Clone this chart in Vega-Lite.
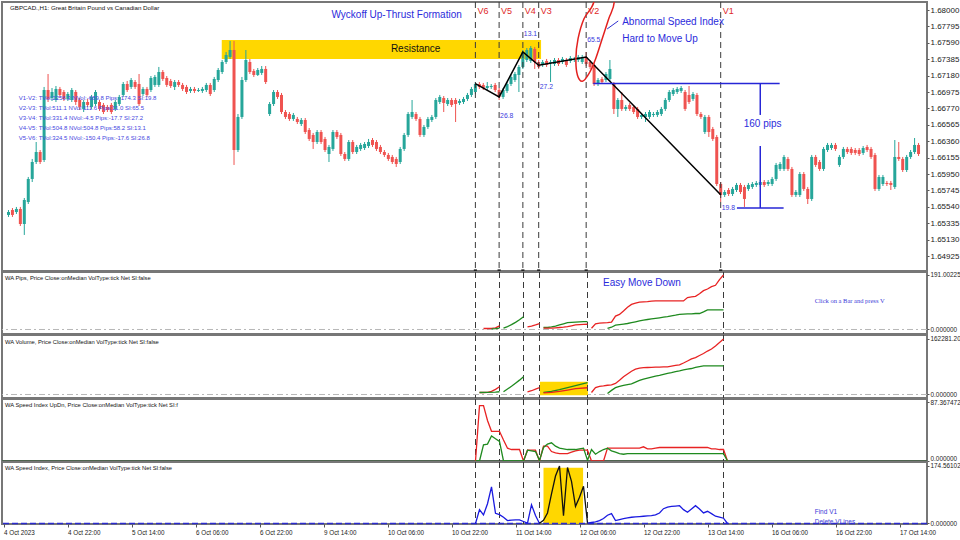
{
"$schema":"https://vega.github.io/schema/vega-lite/v6.json",
"padding":0,
"background":"#ffffff",
"spacing":1,
"bounds":"flush",
"config":{"view":{"stroke":"#777777","strokeWidth":2},"font":"Liberation Sans"},
"resolve":{"scale":{"x":"independent","y":"independent","color":"independent"}},
"datasets":{
"candles":[
{"i":0,"o":1.65438,"h":1.655,"l":1.65413,"c":1.65475},
{"i":1,"o":1.655,"h":1.65525,"l":1.65413,"c":1.65438},
{"i":2,"o":1.65475,"h":1.65538,"l":1.6545,"c":1.65513},
{"i":3,"o":1.65513,"h":1.65538,"l":1.653,"c":1.65325},
{"i":4,"o":1.65325,"h":1.6565,"l":1.65188,"c":1.65625},
{"i":5,"o":1.656,"h":1.65913,"l":1.65575,"c":1.65888},
{"i":6,"o":1.65888,"h":1.66138,"l":1.6585,"c":1.661},
{"i":7,"o":1.661,"h":1.6635,"l":1.66075,"c":1.66225},
{"i":8,"o":1.66225,"h":1.6625,"l":1.66075,"c":1.661},
{"i":9,"o":1.66125,"h":1.67038,"l":1.661,"c":1.67},
{"i":10,"o":1.67,"h":1.672,"l":1.6685,"c":1.66888},
{"i":11,"o":1.669,"h":1.67025,"l":1.66863,"c":1.66975},
{"i":12,"o":1.66875,"h":1.6705,"l":1.6685,"c":1.67013},
{"i":13,"o":1.67013,"h":1.67038,"l":1.669,"c":1.66938},
{"i":14,"o":1.66975,"h":1.67,"l":1.66863,"c":1.66888},
{"i":15,"o":1.66888,"h":1.66975,"l":1.66863,"c":1.6695},
{"i":16,"o":1.66875,"h":1.67025,"l":1.6685,"c":1.67},
{"i":17,"o":1.66975,"h":1.67,"l":1.66813,"c":1.6685},
{"i":18,"o":1.66875,"h":1.669,"l":1.6675,"c":1.66788},
{"i":19,"o":1.66763,"h":1.66875,"l":1.66725,"c":1.6685},
{"i":20,"o":1.6685,"h":1.66888,"l":1.66788,"c":1.66813},
{"i":21,"o":1.66788,"h":1.66938,"l":1.66763,"c":1.66913},
{"i":22,"o":1.66825,"h":1.67,"l":1.668,"c":1.66975},
{"i":23,"o":1.6685,"h":1.66875,"l":1.66738,"c":1.66763},
{"i":24,"o":1.66813,"h":1.66838,"l":1.667,"c":1.66725},
{"i":25,"o":1.66788,"h":1.66813,"l":1.66725,"c":1.6675},
{"i":26,"o":1.66813,"h":1.66838,"l":1.667,"c":1.66725},
{"i":27,"o":1.66763,"h":1.66875,"l":1.66738,"c":1.6685},
{"i":28,"o":1.66825,"h":1.66938,"l":1.668,"c":1.66913},
{"i":29,"o":1.66938,"h":1.671,"l":1.66913,"c":1.67075},
{"i":30,"o":1.67075,"h":1.67113,"l":1.66975,"c":1.67},
{"i":31,"o":1.67038,"h":1.6715,"l":1.67013,"c":1.67125},
{"i":32,"o":1.671,"h":1.67125,"l":1.67013,"c":1.67038},
{"i":33,"o":1.67075,"h":1.672,"l":1.668,"c":1.66825},
{"i":34,"o":1.6695,"h":1.67038,"l":1.66925,"c":1.67013},
{"i":35,"o":1.67013,"h":1.67038,"l":1.66913,"c":1.66938},
{"i":36,"o":1.67,"h":1.67175,"l":1.66975,"c":1.6715},
{"i":37,"o":1.67063,"h":1.67188,"l":1.67038,"c":1.67163},
{"i":38,"o":1.67063,"h":1.67288,"l":1.67038,"c":1.67225},
{"i":39,"o":1.67225,"h":1.6725,"l":1.67113,"c":1.67138},
{"i":40,"o":1.6715,"h":1.67175,"l":1.67038,"c":1.67063},
{"i":41,"o":1.67113,"h":1.67138,"l":1.67025,"c":1.6705},
{"i":42,"o":1.67038,"h":1.67125,"l":1.67,"c":1.671},
{"i":43,"o":1.671,"h":1.67125,"l":1.67038,"c":1.67063},
{"i":44,"o":1.67063,"h":1.67088,"l":1.66988,"c":1.67013},
{"i":45,"o":1.67038,"h":1.67063,"l":1.6695,"c":1.66975},
{"i":46,"o":1.66988,"h":1.67038,"l":1.66963,"c":1.67013},
{"i":47,"o":1.67013,"h":1.67038,"l":1.66963,"c":1.66988},
{"i":48,"o":1.66988,"h":1.67025,"l":1.66975,"c":1.67},
{"i":49,"o":1.66988,"h":1.67038,"l":1.66963,"c":1.67013},
{"i":50,"o":1.67,"h":1.67088,"l":1.66975,"c":1.67063},
{"i":51,"o":1.67063,"h":1.67088,"l":1.66925,"c":1.6695},
{"i":52,"o":1.67,"h":1.67163,"l":1.66975,"c":1.67138},
{"i":53,"o":1.67125,"h":1.67275,"l":1.671,"c":1.6725},
{"i":54,"o":1.67225,"h":1.67375,"l":1.672,"c":1.6735},
{"i":55,"o":1.6735,"h":1.67475,"l":1.67325,"c":1.67438},
{"i":56,"o":1.67413,"h":1.67613,"l":1.67388,"c":1.675},
{"i":57,"o":1.675,"h":1.67613,"l":1.66063,"c":1.6625},
{"i":58,"o":1.6625,"h":1.667,"l":1.66225,"c":1.66663},
{"i":59,"o":1.66663,"h":1.67163,"l":1.66638,"c":1.67125},
{"i":60,"o":1.67125,"h":1.675,"l":1.671,"c":1.67375},
{"i":61,"o":1.6735,"h":1.67388,"l":1.672,"c":1.67225},
{"i":62,"o":1.67238,"h":1.67263,"l":1.67163,"c":1.67188},
{"i":63,"o":1.67188,"h":1.67275,"l":1.67175,"c":1.6725},
{"i":64,"o":1.67213,"h":1.673,"l":1.67188,"c":1.67263},
{"i":65,"o":1.67263,"h":1.673,"l":1.67075,"c":1.671},
{"i":66,"o":1.667,"h":1.6685,"l":1.66675,"c":1.66825},
{"i":67,"o":1.66825,"h":1.67,"l":1.668,"c":1.66975},
{"i":68,"o":1.66975,"h":1.67,"l":1.66888,"c":1.66913},
{"i":69,"o":1.66938,"h":1.66963,"l":1.667,"c":1.66725},
{"i":70,"o":1.66725,"h":1.6675,"l":1.66638,"c":1.66663},
{"i":71,"o":1.667,"h":1.66725,"l":1.66613,"c":1.66638},
{"i":72,"o":1.66638,"h":1.66713,"l":1.66613,"c":1.66688},
{"i":73,"o":1.66638,"h":1.66663,"l":1.66575,"c":1.666},
{"i":74,"o":1.66575,"h":1.6665,"l":1.6655,"c":1.66625},
{"i":75,"o":1.66625,"h":1.6665,"l":1.6645,"c":1.66475},
{"i":76,"o":1.665,"h":1.66525,"l":1.66363,"c":1.66388},
{"i":77,"o":1.66438,"h":1.66463,"l":1.66263,"c":1.6635},
{"i":78,"o":1.6635,"h":1.665,"l":1.66325,"c":1.66475},
{"i":79,"o":1.66475,"h":1.665,"l":1.66325,"c":1.6635},
{"i":80,"o":1.66388,"h":1.66413,"l":1.66225,"c":1.6625},
{"i":81,"o":1.662,"h":1.66313,"l":1.661,"c":1.66288},
{"i":82,"o":1.66263,"h":1.665,"l":1.66238,"c":1.66475},
{"i":83,"o":1.66475,"h":1.665,"l":1.66388,"c":1.66413},
{"i":84,"o":1.66438,"h":1.66463,"l":1.66175,"c":1.662},
{"i":85,"o":1.662,"h":1.66225,"l":1.66113,"c":1.66138},
{"i":86,"o":1.66138,"h":1.66375,"l":1.66113,"c":1.6635},
{"i":87,"o":1.6635,"h":1.66375,"l":1.662,"c":1.66225},
{"i":88,"o":1.66225,"h":1.66313,"l":1.662,"c":1.66288},
{"i":89,"o":1.66263,"h":1.66338,"l":1.66238,"c":1.66313},
{"i":90,"o":1.66275,"h":1.6635,"l":1.6625,"c":1.66325},
{"i":91,"o":1.663,"h":1.66388,"l":1.66275,"c":1.6635},
{"i":92,"o":1.66375,"h":1.664,"l":1.66288,"c":1.66313},
{"i":93,"o":1.6635,"h":1.66375,"l":1.66238,"c":1.66263},
{"i":94,"o":1.66288,"h":1.66313,"l":1.662,"c":1.66225},
{"i":95,"o":1.66225,"h":1.6625,"l":1.66163,"c":1.66188},
{"i":96,"o":1.66188,"h":1.66213,"l":1.66113,"c":1.66138},
{"i":97,"o":1.66163,"h":1.66188,"l":1.66075,"c":1.661},
{"i":98,"o":1.66138,"h":1.66163,"l":1.66038,"c":1.66075},
{"i":99,"o":1.661,"h":1.66288,"l":1.66075,"c":1.66263},
{"i":100,"o":1.66263,"h":1.66463,"l":1.66238,"c":1.66438},
{"i":101,"o":1.66438,"h":1.66725,"l":1.66413,"c":1.667},
{"i":102,"o":1.66663,"h":1.66875,"l":1.66638,"c":1.66725},
{"i":103,"o":1.667,"h":1.66725,"l":1.66613,"c":1.66638},
{"i":104,"o":1.66638,"h":1.66663,"l":1.66413,"c":1.66438},
{"i":105,"o":1.66438,"h":1.66563,"l":1.66413,"c":1.66538},
{"i":106,"o":1.66538,"h":1.66663,"l":1.66513,"c":1.66638},
{"i":107,"o":1.66625,"h":1.66688,"l":1.666,"c":1.66663},
{"i":108,"o":1.66663,"h":1.669,"l":1.66638,"c":1.66875},
{"i":109,"o":1.6685,"h":1.66938,"l":1.66825,"c":1.66913},
{"i":110,"o":1.669,"h":1.66925,"l":1.66725,"c":1.66838},
{"i":111,"o":1.66825,"h":1.669,"l":1.668,"c":1.66875},
{"i":112,"o":1.66875,"h":1.669,"l":1.66788,"c":1.66813},
{"i":113,"o":1.66875,"h":1.669,"l":1.666,"c":1.66825},
{"i":114,"o":1.66838,"h":1.66888,"l":1.66813,"c":1.66863},
{"i":115,"o":1.6685,"h":1.66913,"l":1.66825,"c":1.66888},
{"i":116,"o":1.66888,"h":1.66963,"l":1.66863,"c":1.66938},
{"i":117,"o":1.66938,"h":1.67038,"l":1.66913,"c":1.67013},
{"i":118,"o":1.66975,"h":1.671,"l":1.6695,"c":1.67075},
{"i":119,"o":1.67075,"h":1.671,"l":1.67013,"c":1.67038},
{"i":120,"o":1.67063,"h":1.67088,"l":1.67,"c":1.67025},
{"i":121,"o":1.67025,"h":1.671,"l":1.67,"c":1.6705},
{"i":122,"o":1.67038,"h":1.67075,"l":1.67013,"c":1.6705},
{"i":123,"o":1.67063,"h":1.67088,"l":1.66975,"c":1.67},
{"i":124,"o":1.67,"h":1.67025,"l":1.66875,"c":1.66913},
{"i":125,"o":1.66913,"h":1.67025,"l":1.66888,"c":1.67},
{"i":126,"o":1.66988,"h":1.671,"l":1.66963,"c":1.67075},
{"i":127,"o":1.67075,"h":1.67188,"l":1.6705,"c":1.67163},
{"i":128,"o":1.67125,"h":1.67225,"l":1.671,"c":1.672},
{"i":129,"o":1.67188,"h":1.67313,"l":1.66975,"c":1.67288},
{"i":130,"o":1.67288,"h":1.675,"l":1.67263,"c":1.67475},
{"i":131,"o":1.67375,"h":1.67525,"l":1.6735,"c":1.675},
{"i":132,"o":1.67363,"h":1.6755,"l":1.67338,"c":1.67525},
{"i":133,"o":1.67513,"h":1.67538,"l":1.67263,"c":1.6735},
{"i":134,"o":1.6735,"h":1.67375,"l":1.67263,"c":1.67288},
{"i":135,"o":1.67313,"h":1.67375,"l":1.67288,"c":1.6735},
{"i":136,"o":1.67363,"h":1.67388,"l":1.67288,"c":1.67313},
{"i":137,"o":1.67338,"h":1.67375,"l":1.671,"c":1.6735},
{"i":138,"o":1.67325,"h":1.674,"l":1.673,"c":1.67375},
{"i":139,"o":1.67375,"h":1.674,"l":1.673,"c":1.67325},
{"i":140,"o":1.6735,"h":1.67413,"l":1.67325,"c":1.67388},
{"i":141,"o":1.67375,"h":1.674,"l":1.67288,"c":1.67313},
{"i":142,"o":1.67363,"h":1.67425,"l":1.67338,"c":1.674},
{"i":143,"o":1.67375,"h":1.67413,"l":1.6735,"c":1.67388},
{"i":144,"o":1.67375,"h":1.67438,"l":1.6735,"c":1.67413},
{"i":145,"o":1.6735,"h":1.67438,"l":1.67325,"c":1.67413},
{"i":146,"o":1.67413,"h":1.67475,"l":1.673,"c":1.67325},
{"i":147,"o":1.6735,"h":1.67375,"l":1.67263,"c":1.67288},
{"i":148,"o":1.67313,"h":1.67338,"l":1.6705,"c":1.67075},
{"i":149,"o":1.67075,"h":1.6715,"l":1.6705,"c":1.67125},
{"i":150,"o":1.67138,"h":1.67163,"l":1.67075,"c":1.671},
{"i":151,"o":1.67125,"h":1.67225,"l":1.671,"c":1.672},
{"i":152,"o":1.67138,"h":1.67375,"l":1.67113,"c":1.67263},
{"i":153,"o":1.67075,"h":1.671,"l":1.667,"c":1.66763},
{"i":154,"o":1.66763,"h":1.669,"l":1.66663,"c":1.66875},
{"i":155,"o":1.66875,"h":1.66975,"l":1.66738,"c":1.66763},
{"i":156,"o":1.66763,"h":1.66813,"l":1.66738,"c":1.66788},
{"i":157,"o":1.66813,"h":1.66838,"l":1.66738,"c":1.66763},
{"i":158,"o":1.66788,"h":1.66813,"l":1.667,"c":1.66725},
{"i":159,"o":1.66763,"h":1.66788,"l":1.66638,"c":1.66663},
{"i":160,"o":1.66663,"h":1.66713,"l":1.66638,"c":1.66688},
{"i":161,"o":1.66663,"h":1.66725,"l":1.666,"c":1.667},
{"i":162,"o":1.66663,"h":1.6675,"l":1.66638,"c":1.66725},
{"i":163,"o":1.66688,"h":1.66725,"l":1.66663,"c":1.667},
{"i":164,"o":1.66688,"h":1.6675,"l":1.66663,"c":1.66725},
{"i":165,"o":1.667,"h":1.66788,"l":1.66675,"c":1.66763},
{"i":166,"o":1.66763,"h":1.669,"l":1.66738,"c":1.66875},
{"i":167,"o":1.66875,"h":1.67,"l":1.6685,"c":1.66975},
{"i":168,"o":1.6695,"h":1.67025,"l":1.66925,"c":1.67},
{"i":169,"o":1.66975,"h":1.67038,"l":1.6695,"c":1.67013},
{"i":170,"o":1.66988,"h":1.6705,"l":1.66963,"c":1.67025},
{"i":171,"o":1.66975,"h":1.67,"l":1.66738,"c":1.66763},
{"i":172,"o":1.66938,"h":1.6705,"l":1.66825,"c":1.6685},
{"i":173,"o":1.66888,"h":1.66975,"l":1.66863,"c":1.6695},
{"i":174,"o":1.66938,"h":1.66963,"l":1.66675,"c":1.667},
{"i":175,"o":1.667,"h":1.66725,"l":1.66638,"c":1.66663},
{"i":176,"o":1.66475,"h":1.66688,"l":1.6645,"c":1.66663},
{"i":177,"o":1.66663,"h":1.66688,"l":1.66413,"c":1.66475},
{"i":178,"o":1.66513,"h":1.66538,"l":1.66363,"c":1.66388},
{"i":179,"o":1.66413,"h":1.66438,"l":1.658,"c":1.65825},
{"i":180,"o":1.65825,"h":1.6585,"l":1.656,"c":1.65688},
{"i":181,"o":1.65688,"h":1.6575,"l":1.65663,"c":1.65725},
{"i":182,"o":1.6575,"h":1.65775,"l":1.65675,"c":1.657},
{"i":183,"o":1.657,"h":1.65788,"l":1.65675,"c":1.65763},
{"i":184,"o":1.6575,"h":1.65838,"l":1.65725,"c":1.65813},
{"i":185,"o":1.65813,"h":1.65838,"l":1.657,"c":1.65725},
{"i":186,"o":1.65788,"h":1.65813,"l":1.65538,"c":1.65638},
{"i":187,"o":1.65763,"h":1.65838,"l":1.65738,"c":1.65813},
{"i":188,"o":1.65788,"h":1.6585,"l":1.65763,"c":1.65825},
{"i":189,"o":1.65813,"h":1.65863,"l":1.65788,"c":1.65838},
{"i":190,"o":1.65813,"h":1.65875,"l":1.65788,"c":1.6585},
{"i":191,"o":1.6585,"h":1.65875,"l":1.65788,"c":1.65813},
{"i":192,"o":1.65825,"h":1.65875,"l":1.658,"c":1.6585},
{"i":193,"o":1.65825,"h":1.65913,"l":1.658,"c":1.65888},
{"i":194,"o":1.65888,"h":1.66088,"l":1.65863,"c":1.66063},
{"i":195,"o":1.66013,"h":1.661,"l":1.65988,"c":1.66075},
{"i":196,"o":1.66013,"h":1.66188,"l":1.65988,"c":1.66163},
{"i":197,"o":1.66138,"h":1.66163,"l":1.65988,"c":1.66013},
{"i":198,"o":1.66013,"h":1.66038,"l":1.65663,"c":1.65688},
{"i":199,"o":1.65688,"h":1.6575,"l":1.65663,"c":1.65725},
{"i":200,"o":1.65688,"h":1.65975,"l":1.65663,"c":1.6595},
{"i":201,"o":1.6595,"h":1.65975,"l":1.65738,"c":1.65763},
{"i":202,"o":1.65763,"h":1.65788,"l":1.65575,"c":1.65638},
{"i":203,"o":1.65638,"h":1.66188,"l":1.65613,"c":1.66163},
{"i":204,"o":1.66163,"h":1.66188,"l":1.66038,"c":1.66063},
{"i":205,"o":1.661,"h":1.66125,"l":1.65988,"c":1.66013},
{"i":206,"o":1.66013,"h":1.66288,"l":1.65988,"c":1.66263},
{"i":207,"o":1.6625,"h":1.66338,"l":1.66225,"c":1.66313},
{"i":208,"o":1.66275,"h":1.66338,"l":1.6625,"c":1.66313},
{"i":209,"o":1.66313,"h":1.66338,"l":1.66238,"c":1.66263},
{"i":210,"o":1.66063,"h":1.66188,"l":1.66038,"c":1.66163},
{"i":211,"o":1.66163,"h":1.66288,"l":1.66138,"c":1.66263},
{"i":212,"o":1.66263,"h":1.66288,"l":1.662,"c":1.66225},
{"i":213,"o":1.66263,"h":1.66288,"l":1.66188,"c":1.66213},
{"i":214,"o":1.6625,"h":1.66275,"l":1.66188,"c":1.66213},
{"i":215,"o":1.6625,"h":1.66275,"l":1.66175,"c":1.662},
{"i":216,"o":1.66213,"h":1.663,"l":1.66188,"c":1.66275},
{"i":217,"o":1.66288,"h":1.66313,"l":1.66225,"c":1.6625},
{"i":218,"o":1.66263,"h":1.66288,"l":1.66138,"c":1.66163},
{"i":219,"o":1.66188,"h":1.66213,"l":1.65738,"c":1.65763},
{"i":220,"o":1.65763,"h":1.65938,"l":1.65738,"c":1.65913},
{"i":221,"o":1.65825,"h":1.65938,"l":1.658,"c":1.65913},
{"i":222,"o":1.65838,"h":1.65863,"l":1.658,"c":1.65825},
{"i":223,"o":1.65838,"h":1.65863,"l":1.6575,"c":1.65813},
{"i":224,"o":1.65788,"h":1.66375,"l":1.65763,"c":1.66163},
{"i":225,"o":1.66163,"h":1.6635,"l":1.66113,"c":1.66138},
{"i":226,"o":1.66138,"h":1.66163,"l":1.65975,"c":1.66},
{"i":227,"o":1.66,"h":1.66188,"l":1.65975,"c":1.66163},
{"i":228,"o":1.66163,"h":1.6625,"l":1.66138,"c":1.66225},
{"i":229,"o":1.66225,"h":1.664,"l":1.662,"c":1.66313},
{"i":230,"o":1.66313,"h":1.66338,"l":1.66175,"c":1.662}
],
"vlines":[{"i":118,"n":"V6"},{"i":124,"n":"V5"},{"i":130,"n":"V4"},{"i":134,"n":"V3"},{"i":146,"n":"V2"},{"i":180,"n":"V1"}],
"zigzag":[{"i":118,"p":1.67079},{"i":124,"p":1.66913},{"i":130,"p":1.67475},{"i":134,"p":1.67309},{"i":146,"p":1.67413},{"i":180,"p":1.65691}],
"ellipse":[{"k":0,"i":148.6,"p":1.68475},{"k":1,"i":147.95,"p":1.681},{"k":2,"i":145.45,"p":1.67891},{"k":3,"i":143.95,"p":1.67641},{"k":4,"i":143.4,"p":1.67391},{"k":5,"i":143.8,"p":1.67184},{"k":6,"i":145.05,"p":1.67109},{"k":7,"i":146.7,"p":1.67204},{"k":8,"i":148.4,"p":1.67391},{"k":9,"i":150.05,"p":1.67641},{"k":10,"i":151.7,"p":1.67891},{"k":11,"i":153.1,"p":1.681},{"k":12,"i":152.6,"p":1.68475}],
"pips":[
{"s":"dn","g":1,"i":120,"v":3.5},{"s":"dn","g":1,"i":121,"v":3.5},{"s":"dn","g":1,"i":122,"v":4},{"s":"dn","g":1,"i":123,"v":6},{"s":"dn","g":1,"i":124,"v":12.8},
{"s":"up","g":1,"i":122,"v":2},{"s":"up","g":1,"i":123,"v":3},{"s":"up","g":1,"i":124,"v":5},
{"s":"up","g":2,"i":125,"v":4.5},{"s":"up","g":2,"i":126,"v":10},{"s":"up","g":2,"i":127,"v":17},{"s":"up","g":2,"i":128,"v":25},{"s":"up","g":2,"i":129,"v":34},{"s":"up","g":2,"i":130,"v":45},
{"s":"dn","g":3,"i":131,"v":9.4},{"s":"dn","g":3,"i":132,"v":12},{"s":"dn","g":3,"i":133,"v":16},{"s":"dn","g":3,"i":134,"v":20.8},
{"s":"up","g":4,"i":135,"v":6.9},{"s":"up","g":4,"i":136,"v":7},{"s":"up","g":4,"i":137,"v":9},{"s":"up","g":4,"i":138,"v":12},{"s":"up","g":4,"i":139,"v":16},{"s":"up","g":4,"i":140,"v":20},{"s":"up","g":4,"i":141,"v":24},{"s":"up","g":4,"i":142,"v":25},{"s":"up","g":4,"i":143,"v":26},{"s":"up","g":4,"i":144,"v":27},{"s":"up","g":4,"i":145,"v":27.5},{"s":"up","g":4,"i":146,"v":27.8},
{"s":"dn","g":4,"i":135,"v":4.5},{"s":"dn","g":4,"i":136,"v":4.5},{"s":"dn","g":4,"i":137,"v":5},{"s":"dn","g":4,"i":138,"v":6},{"s":"dn","g":4,"i":139,"v":7},{"s":"dn","g":4,"i":140,"v":8},{"s":"dn","g":4,"i":141,"v":10},{"s":"dn","g":4,"i":142,"v":13},{"s":"dn","g":4,"i":143,"v":16},{"s":"dn","g":4,"i":144,"v":17},{"s":"dn","g":4,"i":145,"v":18},{"s":"dn","g":4,"i":146,"v":18.4},
{"s":"dn","g":5,"i":147,"v":4.5},{"s":"dn","g":5,"i":148,"v":20},{"s":"dn","g":5,"i":149,"v":22},{"s":"dn","g":5,"i":150,"v":23},{"s":"dn","g":5,"i":151,"v":24},{"s":"dn","g":5,"i":152,"v":26},{"s":"dn","g":5,"i":153,"v":47},{"s":"dn","g":5,"i":154,"v":53},{"s":"dn","g":5,"i":155,"v":65},{"s":"dn","g":5,"i":156,"v":78},{"s":"dn","g":5,"i":157,"v":88},{"s":"dn","g":5,"i":158,"v":92},{"s":"dn","g":5,"i":159,"v":96},{"s":"dn","g":5,"i":160,"v":97},{"s":"dn","g":5,"i":161,"v":98},{"s":"dn","g":5,"i":162,"v":99.5},{"s":"dn","g":5,"i":163,"v":100},{"s":"dn","g":5,"i":164,"v":100},{"s":"dn","g":5,"i":165,"v":100},{"s":"dn","g":5,"i":166,"v":100},{"s":"dn","g":5,"i":167,"v":100},{"s":"dn","g":5,"i":168,"v":100},{"s":"dn","g":5,"i":169,"v":100},{"s":"dn","g":5,"i":170,"v":100},{"s":"dn","g":5,"i":171,"v":112},{"s":"dn","g":5,"i":172,"v":114},{"s":"dn","g":5,"i":173,"v":116},{"s":"dn","g":5,"i":174,"v":125},{"s":"dn","g":5,"i":175,"v":136},{"s":"dn","g":5,"i":176,"v":142},{"s":"dn","g":5,"i":177,"v":150},{"s":"dn","g":5,"i":178,"v":155},{"s":"dn","g":5,"i":179,"v":175},{"s":"dn","g":5,"i":180,"v":191},
{"s":"up","g":5,"i":151,"v":3.5},{"s":"up","g":5,"i":152,"v":8},{"s":"up","g":5,"i":153,"v":15},{"s":"up","g":5,"i":154,"v":17},{"s":"up","g":5,"i":155,"v":19},{"s":"up","g":5,"i":156,"v":21},{"s":"up","g":5,"i":157,"v":24},{"s":"up","g":5,"i":158,"v":27},{"s":"up","g":5,"i":159,"v":30},{"s":"up","g":5,"i":160,"v":33},{"s":"up","g":5,"i":161,"v":35},{"s":"up","g":5,"i":162,"v":37},{"s":"up","g":5,"i":163,"v":39},{"s":"up","g":5,"i":164,"v":41},{"s":"up","g":5,"i":165,"v":43},{"s":"up","g":5,"i":166,"v":45},{"s":"up","g":5,"i":167,"v":48},{"s":"up","g":5,"i":168,"v":50},{"s":"up","g":5,"i":169,"v":53},{"s":"up","g":5,"i":170,"v":54},{"s":"up","g":5,"i":171,"v":55},{"s":"up","g":5,"i":172,"v":55},{"s":"up","g":5,"i":173,"v":56},{"s":"up","g":5,"i":174,"v":56},{"s":"up","g":5,"i":175,"v":62},{"s":"up","g":5,"i":176,"v":69},{"s":"up","g":5,"i":177,"v":69},{"s":"up","g":5,"i":178,"v":69},{"s":"up","g":5,"i":179,"v":69},{"s":"up","g":5,"i":180,"v":69}
],
"vol":[
{"s":"dn","g":1,"i":119,"v":5900},{"s":"dn","g":1,"i":120,"v":5900},{"s":"dn","g":1,"i":121,"v":6500},{"s":"dn","g":1,"i":122,"v":9000},{"s":"dn","g":1,"i":123,"v":15000},{"s":"dn","g":1,"i":124,"v":22700},
{"s":"up","g":1,"i":119,"v":5900},{"s":"up","g":1,"i":121,"v":6000},{"s":"up","g":1,"i":123,"v":7000},{"s":"up","g":1,"i":124,"v":8000},
{"s":"up","g":2,"i":125,"v":8000},{"s":"up","g":2,"i":126,"v":16000},{"s":"up","g":2,"i":127,"v":24000},{"s":"up","g":2,"i":128,"v":33000},{"s":"up","g":2,"i":129,"v":42000},{"s":"up","g":2,"i":130,"v":52200},
{"s":"dn","g":3,"i":131,"v":8000},{"s":"dn","g":3,"i":132,"v":11000},{"s":"dn","g":3,"i":133,"v":16000},{"s":"dn","g":3,"i":134,"v":19800},
{"s":"up","g":4,"i":135,"v":6000},{"s":"up","g":4,"i":137,"v":9000},{"s":"up","g":4,"i":139,"v":14000},{"s":"up","g":4,"i":141,"v":20000},{"s":"up","g":4,"i":143,"v":26000},{"s":"up","g":4,"i":146,"v":34500},
{"s":"dn","g":4,"i":135,"v":5000},{"s":"dn","g":4,"i":137,"v":6000},{"s":"dn","g":4,"i":139,"v":9000},{"s":"dn","g":4,"i":141,"v":13000},{"s":"dn","g":4,"i":143,"v":17000},{"s":"dn","g":4,"i":146,"v":19800},
{"s":"dn","g":5,"i":147,"v":5900},{"s":"dn","g":5,"i":148,"v":20000},{"s":"dn","g":5,"i":149,"v":24000},{"s":"dn","g":5,"i":150,"v":25000},{"s":"dn","g":5,"i":151,"v":27000},{"s":"dn","g":5,"i":152,"v":28000},{"s":"dn","g":5,"i":153,"v":32500},{"s":"dn","g":5,"i":154,"v":42000},{"s":"dn","g":5,"i":155,"v":52200},{"s":"dn","g":5,"i":156,"v":60000},{"s":"dn","g":5,"i":157,"v":68000},{"s":"dn","g":5,"i":158,"v":74000},{"s":"dn","g":5,"i":159,"v":77000},{"s":"dn","g":5,"i":160,"v":78700},{"s":"dn","g":5,"i":161,"v":79000},{"s":"dn","g":5,"i":162,"v":79500},{"s":"dn","g":5,"i":163,"v":80000},{"s":"dn","g":5,"i":164,"v":80000},{"s":"dn","g":5,"i":165,"v":80500},{"s":"dn","g":5,"i":166,"v":80500},{"s":"dn","g":5,"i":167,"v":83000},{"s":"dn","g":5,"i":168,"v":85000},{"s":"dn","g":5,"i":169,"v":86400},{"s":"dn","g":5,"i":170,"v":92000},{"s":"dn","g":5,"i":171,"v":98000},{"s":"dn","g":5,"i":172,"v":104000},{"s":"dn","g":5,"i":173,"v":108000},{"s":"dn","g":5,"i":174,"v":114100},{"s":"dn","g":5,"i":175,"v":120000},{"s":"dn","g":5,"i":176,"v":127000},{"s":"dn","g":5,"i":177,"v":133000},{"s":"dn","g":5,"i":178,"v":142000},{"s":"dn","g":5,"i":179,"v":152000},{"s":"dn","g":5,"i":180,"v":162281.2},
{"s":"up","g":5,"i":151,"v":2950},{"s":"up","g":5,"i":152,"v":12000},{"s":"up","g":5,"i":153,"v":20000},{"s":"up","g":5,"i":154,"v":24000},{"s":"up","g":5,"i":155,"v":27000},{"s":"up","g":5,"i":156,"v":29000},{"s":"up","g":5,"i":157,"v":31000},{"s":"up","g":5,"i":158,"v":36000},{"s":"up","g":5,"i":159,"v":41000},{"s":"up","g":5,"i":160,"v":45000},{"s":"up","g":5,"i":161,"v":48000},{"s":"up","g":5,"i":162,"v":51000},{"s":"up","g":5,"i":163,"v":54000},{"s":"up","g":5,"i":164,"v":56000},{"s":"up","g":5,"i":165,"v":59000},{"s":"up","g":5,"i":166,"v":62000},{"s":"up","g":5,"i":167,"v":64000},{"s":"up","g":5,"i":168,"v":67000},{"s":"up","g":5,"i":169,"v":69000},{"s":"up","g":5,"i":170,"v":71700},{"s":"up","g":5,"i":171,"v":74000},{"s":"up","g":5,"i":172,"v":76000},{"s":"up","g":5,"i":173,"v":79000},{"s":"up","g":5,"i":174,"v":81700},{"s":"up","g":5,"i":175,"v":83500},{"s":"up","g":5,"i":176,"v":83500},{"s":"up","g":5,"i":177,"v":83500},{"s":"up","g":5,"i":178,"v":83500},{"s":"up","g":5,"i":179,"v":83500},{"s":"up","g":5,"i":180,"v":83500}
],
"updn":[
{"s":"dn","i":118,"v":0},{"s":"dn","i":119,"v":82},{"s":"dn","i":120,"v":82},{"s":"dn","i":121,"v":60},{"s":"dn","i":122,"v":44},{"s":"dn","i":123,"v":44},{"s":"dn","i":124,"v":44},{"s":"dn","i":125,"v":31},{"s":"dn","i":126,"v":19},{"s":"dn","i":127,"v":17},{"s":"dn","i":128,"v":17},{"s":"dn","i":129,"v":17},{"s":"dn","i":130,"v":0},{"s":"dn","i":131,"v":16},{"s":"dn","i":132,"v":16},{"s":"dn","i":133,"v":16},{"s":"dn","i":134,"v":0},{"s":"dn","i":135,"v":22},{"s":"dn","i":136,"v":22},{"s":"dn","i":137,"v":14},{"s":"dn","i":138,"v":12},{"s":"dn","i":139,"v":11},{"s":"dn","i":140,"v":11},{"s":"dn","i":141,"v":11},{"s":"dn","i":142,"v":13},{"s":"dn","i":143,"v":15},{"s":"dn","i":144,"v":16},{"s":"dn","i":145,"v":16},{"s":"dn","i":146,"v":16},{"s":"dn","i":147,"v":0},{"s":"dn","i":148,"v":0},{"s":"dn","i":149,"v":0},{"s":"dn","i":150,"v":0},{"s":"dn","i":151,"v":19},{"s":"dn","i":152,"v":19},{"s":"dn","i":153,"v":19},{"s":"dn","i":154,"v":19},{"s":"dn","i":155,"v":19},{"s":"dn","i":156,"v":19},{"s":"dn","i":157,"v":19},{"s":"dn","i":158,"v":19},{"s":"dn","i":159,"v":19},{"s":"dn","i":160,"v":21},{"s":"dn","i":161,"v":18},{"s":"dn","i":162,"v":18},{"s":"dn","i":163,"v":19},{"s":"dn","i":164,"v":20},{"s":"dn","i":165,"v":20},{"s":"dn","i":166,"v":20},{"s":"dn","i":167,"v":20},{"s":"dn","i":168,"v":20},{"s":"dn","i":169,"v":20},{"s":"dn","i":170,"v":20},{"s":"dn","i":171,"v":20},{"s":"dn","i":172,"v":20},{"s":"dn","i":173,"v":20},{"s":"dn","i":174,"v":20},{"s":"dn","i":175,"v":20},{"s":"dn","i":176,"v":20},{"s":"dn","i":177,"v":18},{"s":"dn","i":178,"v":18},{"s":"dn","i":179,"v":17},{"s":"dn","i":180,"v":17},{"s":"dn","i":181,"v":0},
{"s":"up","i":118,"v":0},{"s":"up","i":119,"v":0},{"s":"up","i":120,"v":24},{"s":"up","i":121,"v":25},{"s":"up","i":122,"v":37},{"s":"up","i":123,"v":33},{"s":"up","i":124,"v":29},{"s":"up","i":125,"v":0},{"s":"up","i":126,"v":0},{"s":"up","i":127,"v":0},{"s":"up","i":128,"v":0},{"s":"up","i":129,"v":0},{"s":"up","i":130,"v":0},{"s":"up","i":131,"v":16},{"s":"up","i":132,"v":15},{"s":"up","i":133,"v":14},{"s":"up","i":134,"v":1},{"s":"up","i":135,"v":20},{"s":"up","i":136,"v":25},{"s":"up","i":137,"v":27},{"s":"up","i":138,"v":22},{"s":"up","i":139,"v":19},{"s":"up","i":140,"v":18},{"s":"up","i":141,"v":17},{"s":"up","i":142,"v":17},{"s":"up","i":143,"v":17},{"s":"up","i":144,"v":18},{"s":"up","i":145,"v":19},{"s":"up","i":146,"v":1},{"s":"up","i":147,"v":17},{"s":"up","i":148,"v":10},{"s":"up","i":149,"v":14},{"s":"up","i":150,"v":17},{"s":"up","i":151,"v":19},{"s":"up","i":152,"v":15},{"s":"up","i":153,"v":13},{"s":"up","i":154,"v":11},{"s":"up","i":155,"v":10},{"s":"up","i":156,"v":11},{"s":"up","i":160,"v":11},{"s":"up","i":165,"v":11},{"s":"up","i":170,"v":11},{"s":"up","i":175,"v":11},{"s":"up","i":180,"v":11},{"s":"up","i":181,"v":0}
],
"speed":[
{"s":"si","g":1,"i":118,"v":0},{"s":"si","g":1,"i":119,"v":42},{"s":"si","g":1,"i":120,"v":26},{"s":"si","g":1,"i":121,"v":60},{"s":"si","g":1,"i":122,"v":111},{"s":"si","g":1,"i":123,"v":31},{"s":"si","g":1,"i":124,"v":27},{"s":"si","g":1,"i":125,"v":19},{"s":"si","g":1,"i":126,"v":9},{"s":"si","g":1,"i":127,"v":10},{"s":"si","g":1,"i":128,"v":11},{"s":"si","g":1,"i":129,"v":11},{"s":"si","g":1,"i":130,"v":6},{"s":"si","g":1,"i":131,"v":1},{"s":"si","g":1,"i":132,"v":57},{"s":"si","g":1,"i":133,"v":24},{"s":"si","g":1,"i":134,"v":0},
{"s":"hl","g":2,"i":134,"v":1},{"s":"hl","g":2,"i":135,"v":10},{"s":"hl","g":2,"i":136,"v":32},{"s":"hl","g":2,"i":137,"v":90},{"s":"hl","g":2,"i":138,"v":144},{"s":"hl","g":2,"i":139,"v":174.56},{"s":"hl","g":2,"i":140,"v":24},{"s":"hl","g":2,"i":141,"v":170},{"s":"hl","g":2,"i":142,"v":128},{"s":"hl","g":2,"i":143,"v":52},{"s":"hl","g":2,"i":144,"v":80},{"s":"hl","g":2,"i":145,"v":113},{"s":"hl","g":2,"i":146,"v":2},
{"s":"si","g":3,"i":146,"v":1},{"s":"si","g":3,"i":147,"v":3},{"s":"si","g":3,"i":148,"v":5},{"s":"si","g":3,"i":149,"v":9},{"s":"si","g":3,"i":150,"v":15},{"s":"si","g":3,"i":151,"v":25},{"s":"si","g":3,"i":152,"v":30},{"s":"si","g":3,"i":153,"v":9},{"s":"si","g":3,"i":154,"v":12},{"s":"si","g":3,"i":155,"v":15},{"s":"si","g":3,"i":156,"v":17},{"s":"si","g":3,"i":157,"v":19},{"s":"si","g":3,"i":158,"v":20},{"s":"si","g":3,"i":159,"v":21},{"s":"si","g":3,"i":160,"v":22},{"s":"si","g":3,"i":161,"v":23},{"s":"si","g":3,"i":162,"v":24},{"s":"si","g":3,"i":163,"v":26},{"s":"si","g":3,"i":164,"v":32},{"s":"si","g":3,"i":165,"v":45},{"s":"si","g":3,"i":166,"v":50},{"s":"si","g":3,"i":167,"v":52},{"s":"si","g":3,"i":168,"v":53},{"s":"si","g":3,"i":169,"v":54},{"s":"si","g":3,"i":170,"v":42},{"s":"si","g":3,"i":171,"v":34},{"s":"si","g":3,"i":172,"v":44},{"s":"si","g":3,"i":173,"v":54},{"s":"si","g":3,"i":174,"v":44},{"s":"si","g":3,"i":175,"v":32},{"s":"si","g":3,"i":176,"v":37},{"s":"si","g":3,"i":177,"v":30},{"s":"si","g":3,"i":178,"v":22},{"s":"si","g":3,"i":179,"v":19},{"s":"si","g":3,"i":180,"v":16},{"s":"si","g":3,"i":181,"v":0}
]
},
"vconcat":[
{"width":925,"height":269,"resolve":{"axis":{"x":"independent","y":"independent"}},"layer":[
{"data":{"values":[{"a":53.9,"b":134.6,"lo":1.67388,"hi":1.67625}]},"mark":{"type":"rect","color":"#ffd700"},
 "encoding":{"x":{"field":"a","type":"quantitative","scale":{"domain":[-0.375,230.875],"nice":false,"zero":false},"axis":null},"x2":{"field":"b"},
 "y":{"field":"lo","type":"quantitative","scale":{"domain":[1.647375,1.681],"nice":false,"zero":false},"axis":{"orient":"right","values":[1.68,1.67795,1.6759,1.67385,1.6718,1.66975,1.6677,1.66565,1.6636,1.66155,1.6595,1.65745,1.6554,1.65335,1.6513,1.64925],"format":".5f","labelFontSize":8,"labelColor":"#222222","tickColor":"#555555","tickSize":2,"labelPadding":1,"grid":false,"domain":false,"title":null,"zindex":2}},"y2":{"field":"hi"}}},
{"data":{"name":"candles"},"mark":{"type":"rule","strokeWidth":1},
 "encoding":{"x":{"field":"i","type":"quantitative","axis":null},
 "y":{"field":"l","type":"quantitative","axis":null},"y2":{"field":"h"},
 "color":{"condition":{"test":"datum.c >= datum.o","value":"#26a69a"},"value":"#ef5350"}}},
{"data":{"name":"candles"},"mark":{"type":"bar","size":3},
 "encoding":{"x":{"field":"i","type":"quantitative","axis":null},
 "y":{"field":"o","type":"quantitative","axis":null},"y2":{"field":"c"},
 "color":{"condition":{"test":"datum.c >= datum.o","value":"#26a69a"},"value":"#ef5350"}}},
{"data":{"name":"vlines"},"mark":{"type":"rule","color":"#3a3a3a","strokeDash":[6,4],"strokeWidth":1},
 "encoding":{"x":{"field":"i","type":"quantitative","axis":null}}},
{"data":{"name":"vlines"},"mark":{"type":"point","shape":"square","filled":true,"color":"#000000","size":10},
 "encoding":{"x":{"field":"i","type":"quantitative","axis":null},
 "y":{"datum":1.6474,"type":"quantitative","axis":null}}},
{"data":{"name":"zigzag"},"mark":{"type":"line","color":"#000000","strokeWidth":1.5},
 "encoding":{"x":{"field":"i","type":"quantitative","axis":null},
 "y":{"field":"p","type":"quantitative","axis":null}}},
{"data":{"values":[{"a":147.8,"b":194.9,"p1":1.6708,"p2":1.6708},{"a":184.1,"b":195.9,"p1":1.65525,"p2":1.65525},{"a":190,"b":190,"p1":1.6708,"p2":1.66688},{"a":190,"b":190,"p1":1.663,"p2":1.65525}]},
 "mark":{"type":"rule","color":"#2626d6","strokeWidth":1.5},
 "encoding":{"x":{"field":"a","type":"quantitative","axis":null},"x2":{"field":"b"},
 "y":{"field":"p1","type":"quantitative","axis":null},"y2":{"field":"p2"}}},
{"data":{"values":[{"a":154.1,"b":151.3,"p1":1.67863,"p2":1.67763}]},
 "mark":{"type":"rule","color":"#3030d0","strokeWidth":1},
 "encoding":{"x":{"field":"a","type":"quantitative","axis":null},"x2":{"field":"b"},
 "y":{"field":"p1","type":"quantitative","axis":null},"y2":{"field":"p2"}}},
{"data":{"name":"ellipse"},
 "mark":{"type":"line","color":"#e3211f","strokeWidth":1.5,"interpolate":"cardinal-closed","clip":true},
 "encoding":{"x":{"field":"i","type":"quantitative","axis":null},
 "y":{"field":"p","type":"quantitative","axis":null},"order":{"field":"k","type":"quantitative"}}},
{"data":{"name":"vlines"},"mark":{"type":"text","align":"left","baseline":"middle","dx":2,"fontSize":9,"color":"#e02828"},
 "encoding":{"x":{"field":"i","type":"quantitative","axis":null},
 "y":{"datum":1.67988,"type":"quantitative","axis":null},"text":{"field":"n"}}},
{"data":{"values":[{"i":0.375,"p":1.68025,"t":"GBPCAD.,H1:  Great Britain Pound vs Canadian Dollar"}]},
 "mark":{"type":"text","align":"left","baseline":"middle","fontSize":6.2,"color":"#111111"},
 "encoding":{"x":{"field":"i","type":"quantitative","axis":null},
 "y":{"field":"p","type":"quantitative","axis":null},"text":{"field":"t"}}},
{"data":{"values":[{"i":98.1,"p":1.67938,"t":"Wyckoff Up-Thrust Formation"},{"i":190.6,"p":1.66575,"t":"160 pips"}]},
 "mark":{"type":"text","align":"center","baseline":"middle","fontSize":10,"color":"#2b2bdb"},
 "encoding":{"x":{"field":"i","type":"quantitative","axis":null},
 "y":{"field":"p","type":"quantitative","axis":null},"text":{"field":"t"}}},
{"data":{"values":[{"i":155.1,"p":1.6785,"t":"Abnormal Speed Index"},{"i":155.1,"p":1.67638,"t":"Hard to Move Up"}]},
 "mark":{"type":"text","align":"left","baseline":"middle","fontSize":10,"color":"#2b2bdb"},
 "encoding":{"x":{"field":"i","type":"quantitative","axis":null},
 "y":{"field":"p","type":"quantitative","axis":null},"text":{"field":"t"}}},
{"data":{"values":[{"i":102.9,"p":1.67513,"t":"Resistance"}]},
 "mark":{"type":"text","align":"center","baseline":"middle","fontSize":10,"color":"#111111"},
 "encoding":{"x":{"field":"i","type":"quantitative","axis":null},
 "y":{"field":"p","type":"quantitative","axis":null},"text":{"field":"t"}}},
{"data":{"values":[{"i":130,"p":1.677,"t":"13.1"},{"i":146,"p":1.67625,"t":"65.5"},{"i":134,"p":1.67038,"t":"27.2"},{"i":124,"p":1.66675,"t":"26.8"},{"i":180,"p":1.65525,"t":"19.8"}]},
 "mark":{"type":"text","align":"left","baseline":"middle","dx":1,"fontSize":6.8,"color":"#3a3ae0"},
 "encoding":{"x":{"field":"i","type":"quantitative","axis":null},
 "y":{"field":"p","type":"quantitative","axis":null},"text":{"field":"t"}}},
{"data":{"values":[{"i":2.6,"p":1.669,"t":"V1-V2: TVol:2256.3 NVol:-689.8 Pips:-174.3 SI:19.8"},{"i":2.6,"p":1.66775,"t":"V2-V3: TVol:511.1 NVol:111.6 Pips:11.0 SI:65.5"},{"i":2.6,"p":1.6665,"t":"V3-V4: TVol:331.4 NVol:-4.5 Pips:-17.7 SI:27.2"},{"i":2.6,"p":1.66525,"t":"V4-V5: TVol:504.8 NVol:504.8 Pips:58.2 SI:13.1"},{"i":2.6,"p":1.664,"t":"V5-V6: TVol:324.5 NVol:-150.4 Pips:-17.6 SI:26.8"}]},
 "mark":{"type":"text","align":"left","baseline":"middle","fontSize":6,"color":"#4646e0"},
 "encoding":{"x":{"field":"i","type":"quantitative","axis":null},
 "y":{"field":"p","type":"quantitative","axis":null},"text":{"field":"t"}}}
]},
{"width":925,"height":62,"resolve":{"axis":{"x":"independent","y":"independent"}},"layer":[
{"data":{"values":[{"v":0}]},"mark":{"type":"rule","color":"#b8b8b8","strokeDash":[6,3,2,3]},
 "encoding":{"y":{"field":"v","type":"quantitative","scale":{"domain":[-15.8,201.5],"nice":false,"zero":false},"axis":{"orient":"right","values":[0,191.00225],"labelExpr":"substring(format(datum.value,'.6f'),0,9)","labelFontSize":6.4,"labelColor":"#222222","tickColor":"#555555","tickSize":2,"labelPadding":1,"grid":false,"domain":false,"title":null,"zindex":2}}}},
{"data":{"name":"vlines"},"mark":{"type":"rule","color":"#3a3a3a","strokeDash":[6,4],"strokeWidth":1},
 "encoding":{"x":{"field":"i","type":"quantitative","scale":{"domain":[-0.375,230.875],"nice":false,"zero":false},"axis":null}}},
{"data":{"name":"pips"},"mark":{"type":"line","strokeWidth":1.3},
 "encoding":{"x":{"field":"i","type":"quantitative","axis":null},
 "y":{"field":"v","type":"quantitative","axis":null},
 "color":{"field":"s","type":"nominal","scale":{"domain":["up","dn"],"range":["#1f8a1f","#e82323"]},"legend":null},"detail":{"field":"g","type":"nominal"}}},
{"data":{"values":[{"i":0.375,"v":180.5,"t":"WA Pips, Price Close:onMedian VolType:tick Net SI:false"}]},
 "mark":{"type":"text","align":"left","baseline":"middle","fontSize":5.8,"color":"#111111"},
 "encoding":{"x":{"field":"i","type":"quantitative","axis":null},
 "y":{"field":"v","type":"quantitative","axis":null},"text":{"field":"t"}}},
{"data":{"values":[{"i":159.6,"v":163,"t":"Easy Move Down"}]},
 "mark":{"type":"text","align":"center","baseline":"middle","fontSize":10,"color":"#2b2bdb"},
 "encoding":{"x":{"field":"i","type":"quantitative","axis":null},
 "y":{"field":"v","type":"quantitative","axis":null},"text":{"field":"t"}}},
{"data":{"values":[{"i":202.8,"v":98.8,"t":"Click on a Bar and press V"}]},
 "mark":{"type":"text","align":"left","baseline":"middle","fontSize":6.5,"font":"Liberation Serif","color":"#3a3ad8"},
 "encoding":{"x":{"field":"i","type":"quantitative","axis":null},
 "y":{"field":"v","type":"quantitative","axis":null},"text":{"field":"t"}}}
]},
{"width":925,"height":63,"resolve":{"axis":{"x":"independent","y":"independent"}},"layer":[
{"data":{"values":[{"v":0}]},"mark":{"type":"rule","color":"#b8b8b8","strokeDash":[6,3,2,3]},
 "encoding":{"y":{"field":"v","type":"quantitative","scale":{"domain":[-10234,173977],"nice":false,"zero":false},"axis":{"orient":"right","values":[0,162281.2],"labelExpr":"substring(format(datum.value,'.6f'),0,9)","labelFontSize":6.4,"labelColor":"#222222","tickColor":"#555555","tickSize":2,"labelPadding":1,"grid":false,"domain":false,"title":null,"zindex":2}}}},
{"data":{"values":[{"a":134.1,"b":146.1,"lo":-2000,"hi":37500}]},"mark":{"type":"rect","color":"#ffd700"},
 "encoding":{"x":{"field":"a","type":"quantitative","scale":{"domain":[-0.375,230.875],"nice":false,"zero":false},"axis":null},"x2":{"field":"b"},
 "y":{"field":"lo","type":"quantitative","axis":null},"y2":{"field":"hi"}}},
{"data":{"name":"vlines"},"mark":{"type":"rule","color":"#3a3a3a","strokeDash":[6,4],"strokeWidth":1},
 "encoding":{"x":{"field":"i","type":"quantitative","axis":null}}},
{"data":{"name":"vol"},"mark":{"type":"line","strokeWidth":1.3},
 "encoding":{"x":{"field":"i","type":"quantitative","axis":null},
 "y":{"field":"v","type":"quantitative","axis":null},
 "color":{"field":"s","type":"nominal","scale":{"domain":["up","dn"],"range":["#1f8a1f","#e82323"]},"legend":null},"detail":{"field":"g","type":"nominal"}}},
{"data":{"values":[{"i":0.375,"v":154400,"t":"WA Volume, Price Close:onMedian VolType:tick Net SI:false"}]},
 "mark":{"type":"text","align":"left","baseline":"middle","fontSize":5.8,"color":"#111111"},
 "encoding":{"x":{"field":"i","type":"quantitative","axis":null},
 "y":{"field":"v","type":"quantitative","axis":null},"text":{"field":"t"}}}
]},
{"width":925,"height":62,"resolve":{"axis":{"x":"independent","y":"independent"}},"layer":[
{"data":{"values":[{"v":0}]},"mark":{"type":"rule","color":"#4e634e","strokeWidth":2},
 "encoding":{"y":{"field":"v","type":"quantitative","scale":{"domain":[0,91.81],"nice":false,"zero":false},"axis":{"orient":"right","values":[0,87.367472],"labelExpr":"substring(format(datum.value,'.6f'),0,9)","labelFontSize":6.4,"labelColor":"#222222","tickColor":"#555555","tickSize":2,"labelPadding":1,"grid":false,"domain":false,"title":null,"zindex":2,"labelBaseline":{"condition":{"test":"datum.value == 0","value":"bottom"},"value":"middle"}}}}},
{"data":{"name":"vlines"},"mark":{"type":"rule","color":"#3a3a3a","strokeDash":[6,4],"strokeWidth":1},
 "encoding":{"x":{"field":"i","type":"quantitative","scale":{"domain":[-0.375,230.875],"nice":false,"zero":false},"axis":null}}},
{"data":{"name":"updn"},"mark":{"type":"line","strokeWidth":1.3},
 "encoding":{"x":{"field":"i","type":"quantitative","axis":null},
 "y":{"field":"v","type":"quantitative","axis":null},
 "color":{"field":"s","type":"nominal","scale":{"domain":["up","dn"],"range":["#1f8a1f","#e82323"]},"legend":null}}},
{"data":{"values":[{"i":0.375,"v":82.9,"t":"WA Speed Index UpDn, Price Close:onMedian VolType:tick Net SI:f"}]},
 "mark":{"type":"text","align":"left","baseline":"middle","fontSize":5.8,"color":"#111111"},
 "encoding":{"x":{"field":"i","type":"quantitative","axis":null},
 "y":{"field":"v","type":"quantitative","axis":null},"text":{"field":"t"}}}
]},
{"width":925,"height":62,"resolve":{"axis":{"x":"independent","y":"independent"}},"layer":[
{"data":{"values":[{"a":135,"b":144.9,"lo":-1,"hi":169.4}]},"mark":{"type":"rect","color":"#ffd700"},
 "encoding":{"x":{"field":"a","type":"quantitative","scale":{"domain":[-0.375,230.875],"nice":false,"zero":false},"axis":{"orient":"bottom","values":[0,16,32,48,64,80,96,112,128,144,160,176,192,208,224],"labelExpr":"['4 Oct 2023','4 Oct 22:00','5 Oct 14:00','6 Oct 06:00','6 Oct 22:00','9 Oct 14:00','10 Oct 06:00','10 Oct 22:00','11 Oct 14:00','12 Oct 06:00','12 Oct 22:00','13 Oct 14:00','16 Oct 06:00','16 Oct 22:00','17 Oct 14:00'][round(datum.value/16)]","labelAlign":"left","labelFontSize":6.3,"labelColor":"#222222","tickColor":"#555555","tickSize":3,"labelPadding":2,"grid":false,"domain":false,"title":null,"labelOverlap":false,"labelFlush":false,"zindex":2}},"x2":{"field":"b"},
 "y":{"field":"lo","type":"quantitative","scale":{"domain":[-1.52,186.7],"nice":false,"zero":false},"axis":{"orient":"right","values":[0,174.561025],"labelExpr":"substring(format(datum.value,'.6f'),0,9)","labelFontSize":6.4,"labelColor":"#222222","tickColor":"#555555","tickSize":2,"labelPadding":1,"grid":false,"domain":false,"title":null,"zindex":2}},"y2":{"field":"hi"}}},
{"data":{"name":"vlines"},"mark":{"type":"rule","color":"#3a3a3a","strokeDash":[6,4],"strokeWidth":1},
 "encoding":{"x":{"field":"i","type":"quantitative","axis":null}}},
{"data":{"values":[{"v":0}]},"mark":{"type":"rule","color":"#2b2bcc","strokeDash":[6,3],"strokeWidth":1.5},
 "encoding":{"y":{"field":"v","type":"quantitative","axis":null}}},
{"data":{"name":"speed"},"mark":{"type":"line","strokeWidth":1.3},
 "encoding":{"x":{"field":"i","type":"quantitative","axis":null},
 "y":{"field":"v","type":"quantitative","axis":null},
 "color":{"field":"s","type":"nominal","scale":{"domain":["si","hl"],"range":["#1a1ae0","#111111"]},"legend":null},"detail":{"field":"g","type":"nominal"}}},
{"data":{"values":[{"i":0.375,"v":167.6,"t":"WA Speed Index, Price Close:onMedian VolType:tick Net SI:false"}]},
 "mark":{"type":"text","align":"left","baseline":"middle","fontSize":5.8,"color":"#111111"},
 "encoding":{"x":{"field":"i","type":"quantitative","axis":null},
 "y":{"field":"v","type":"quantitative","axis":null},"text":{"field":"t"}}},
{"data":{"values":[{"i":202.8,"v":35.8,"t":"Find V1"},{"i":202.8,"v":5.5,"t":"Delete VLines"}]},
 "mark":{"type":"text","align":"left","baseline":"middle","fontSize":6.5,"color":"#3a3ad8"},
 "encoding":{"x":{"field":"i","type":"quantitative","axis":null},
 "y":{"field":"v","type":"quantitative","axis":null},"text":{"field":"t"}}}
]}
]
}
